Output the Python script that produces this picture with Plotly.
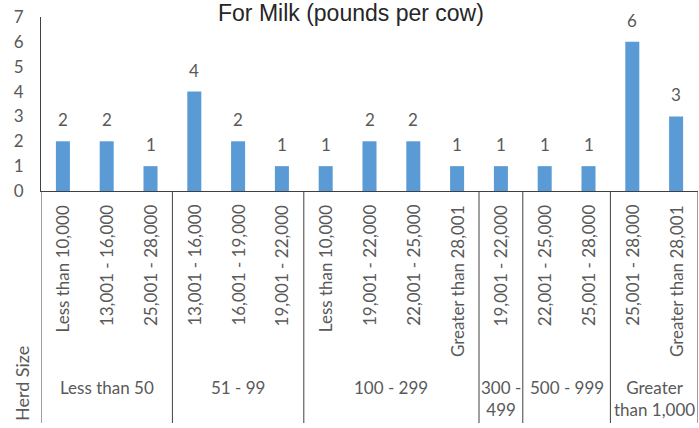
import plotly.graph_objects as go

# Herd size groups and the milk-yield bands reported within each
herd_groups = ["Less than 50", "51 - 99", "100 - 299", "300 -<br>499", "500 - 999", "Greater<br>than 1,000"]
group_sizes = [3, 3, 4, 1, 2, 2]
yield_bands = [
    "Less than 10,000", "13,001 - 16,000", "25,001 - 28,000",
    "13,001 - 16,000", "16,001 - 19,000", "19,001 - 22,000",
    "Less than 10,000", "19,001 - 22,000", "22,001 - 25,000", "Greater than 28,001",
    "19,001 - 22,000",
    "22,001 - 25,000", "25,001 - 28,000",
    "25,001 - 28,000", "Greater than 28,001",
]
counts = [2, 2, 1, 4, 2, 1, 1, 2, 2, 1, 1, 1, 1, 6, 3]
y_ticks = [0, 1, 2, 3, 4, 5, 6, 7]

FONT = "Lato"
TXT = "#595959"
LINE = "#404040"

W, H = 699, 428
ML, MR, MT, MB = 41, 1, 17, 237
plot_h = H - MT - MB


def py(px):
    """pixel row -> paper y"""
    return (H - MB - px) / plot_h


def pxx(px):
    """pixel column -> paper x"""
    return (px - ML) / (W - ML - MR)


xs = list(range(len(counts)))

fig = go.Figure()
fig.add_trace(go.Bar(
    x=xs, y=counts, width=0.32,
    marker=dict(color="#5B9BD5", line=dict(width=0)),
    hoverinfo="skip",
))

annotations = []
# value labels above bars
for x, v in zip(xs, counts):
    annotations.append(dict(
        x=x, y=v, xref="x", yref="y", text=str(v), showarrow=False,
        yanchor="bottom", yshift=9, font=dict(family=FONT, size=17, color=TXT),
    ))
# rotated yield band labels
for x, lab in zip(xs, yield_bands):
    annotations.append(dict(
        x=x, y=py(203), xref="x", yref="paper", text=lab, showarrow=False,
        textangle=-90, xanchor="center", yanchor="top",
        font=dict(family=FONT, size=17, color=TXT),
    ))

# herd group labels and separators
shapes = []
start = 0
bounds = [-0.5]
for g, n in zip(herd_groups, group_sizes):
    center = start + (n - 1) / 2
    annotations.append(dict(
        x=center, y=py(375), xref="x", yref="paper", text=g, showarrow=False,
        xanchor="center", yanchor="top",
        font=dict(family=FONT, size=17, color=TXT),
    ))
    start += n
    bounds.append(start - 0.5)
for b in bounds:
    shapes.append(dict(
        type="line", xref="x", yref="paper", x0=b, x1=b, y0=py(191), y1=py(423),
        line=dict(color=LINE, width=1),
    ))

annotations.append(dict(
    x=pxx(22), y=py(384), xref="paper", yref="paper", text="Herd Size",
    showarrow=False, textangle=-90, xanchor="center", yanchor="middle",
    font=dict(family=FONT, size=18, color=TXT),
))
annotations.append(dict(
    x=pxx(351), y=py(28), xref="paper", yref="paper",
    text="For Milk (pounds per cow)", showarrow=False,
    xanchor="center", yanchor="bottom",
    font=dict(family="Liberation Sans", size=23, color="#262626"),
))

fig.update_layout(
    width=W, height=H,
    margin=dict(l=ML, r=MR, t=MT, b=MB, pad=0),
    paper_bgcolor="white", plot_bgcolor="white",
    showlegend=False,
    annotations=annotations, shapes=shapes,
    xaxis=dict(
        range=[-0.5, len(counts) - 0.5], showticklabels=False, ticks="",
        showgrid=False, zeroline=False, showline=True, linecolor=LINE, linewidth=1,
    ),
    yaxis=dict(
        range=[0, 7], tickvals=y_ticks, showgrid=False, zeroline=False,
        showline=True, linecolor=LINE, linewidth=1, ticks="",
        ticklabelstandoff=13,
        tickfont=dict(family=FONT, size=17, color=TXT),
    ),
)

fig.write_html("out.html")
